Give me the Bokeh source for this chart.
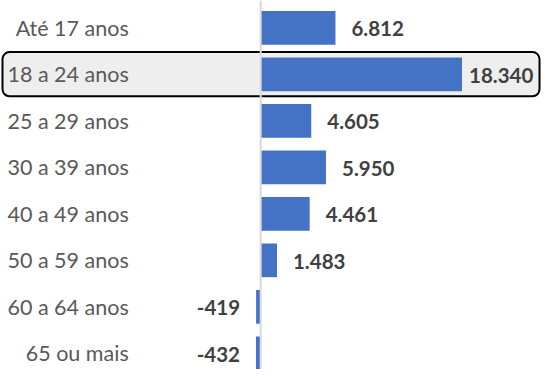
from bokeh.plotting import figure
from bokeh.models import ColumnDataSource, Range1d, Span, BoxAnnotation
from bokeh.core.properties import value
from bokeh.embed import file_html
from bokeh.resources import INLINE

# ---- data ----
categories = ["Até 17 anos", "18 a 24 anos", "25 a 29 anos", "30 a 39 anos",
              "40 a 49 anos", "50 a 59 anos", "60 a 64 anos", "65 ou mais"]
values = [6812, 18340, 4605, 5950, 4461, 1483, -419, -432]
value_labels = ["6.812", "18.340", "4.605", "5.950", "4.461", "1.483", "-419", "-432"]
highlight = "18 a 24 anos"

W, H = 542, 369
FONT = "Lato"
BLUE = "#4472C4"

idx = list(range(len(categories)))
px_per_unit = 201.3 / 18340.0
zero_px = 260.2
x_start = -zero_px / px_per_unit
x_end = (W - zero_px) / px_per_unit
row_px = 46.49
first_px = 27.4
y_top = -first_px / row_px
y_bottom = (H - first_px) / row_px

p = figure(width=W, height=H, output_backend="svg", toolbar_location=None,
           x_range=Range1d(x_start, x_end), y_range=Range1d(y_bottom, y_top),
           min_border=0, outline_line_color=None)
p.axis.visible = False
p.grid.visible = False
p.background_fill_color = "white"
p.border_fill_color = "white"

hi = categories.index(highlight)
unit = 1.0 / px_per_unit
box = BoxAnnotation(left=x_start + 2.0 * unit, right=x_end - 3.0 * unit,
                    top=hi - 0.48, bottom=hi + 0.47,
                    fill_color="#EEEEEE", fill_alpha=1.0,
                    line_color="black", line_width=2, line_alpha=1.0,
                    border_radius=7, level="underlay")
p.add_layout(box)

src = ColumnDataSource(dict(
    y=idx, v=values, cat=categories, lab=value_labels,
    off=[(7 if c == highlight else 16) if v >= 0 else -16 for c, v in zip(categories, values)],
    align=["left" if v >= 0 else "right" for v in values],
    zero=[0] * len(values),
))

p.hbar(y="y", left=0, right="v", height=0.724, source=src,
       fill_color=BLUE, line_color=None)

p.add_layout(Span(location=0, dimension="height", line_color="#D9D9D9", line_width=2))

p.text(x="zero", y="y", text="cat", source=src, x_offset=-132,
       text_align="right", text_baseline="middle",
       text_font=value(FONT), text_font_size="21.5px", text_color="#595959")

p.text(x="v", y="y", text="lab", source=src, x_offset="off", y_offset=1,
       text_align="align", text_baseline="middle",
       text_font=value(FONT), text_font_size="20.5px", text_font_style="bold",
       text_color="#404040")

open("out.html", "w").write(file_html(p, INLINE))
